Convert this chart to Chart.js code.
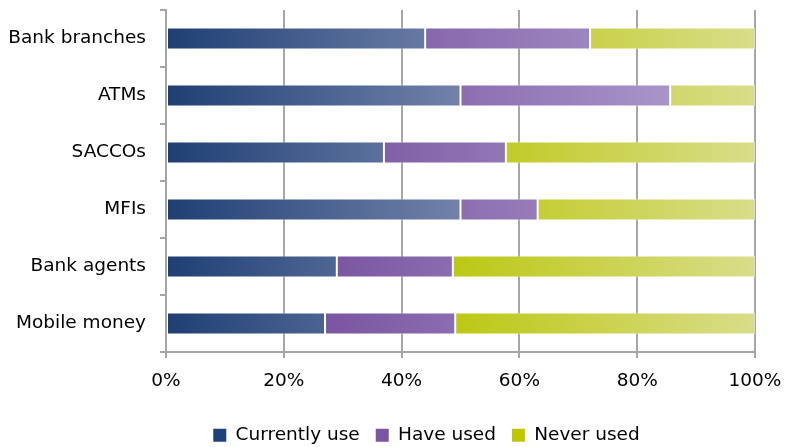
<!DOCTYPE html>
<html>
<head>
<meta charset="utf-8">
<script src="https://cdn.jsdelivr.net/npm/chart.js@4/dist/chart.umd.min.js"></script>
<style>
  html, body { margin: 0; padding: 0; background: #ffffff; }
  #wrap { width: 785px; height: 447px; position: relative; }
</style>
</head>
<body>
<div id="wrap"><canvas id="c"></canvas></div>
<script>
// ---- data ----
const categories = ["Bank branches", "ATMs", "SACCOs", "MFIs", "Bank agents", "Mobile money"];
const seriesNames = ["Currently use", "Have used", "Never used"];
const currentlyUse = [44, 50, 37, 50, 29, 27];
const haveUsed     = [28, 35.6, 20.7, 13.1, 19.7, 22.1];
const neverUsed    = [28, 14.4, 42.3, 36.9, 51.3, 50.9];
const xTicks = [0, 20, 40, 60, 80, 100];

// ---- styles ----
const solidColors = ["#1F4078", "#7B55A1", "#BDC800"];
const gradRanges = [[0, 50], [29, 86], [49, 100]];
const gradColors = [["#1E3F74", "#7282AA"], ["#7B57A1", "#A995CA"], ["#BCC815", "#D9DD8A"]];
const FONT = "'DejaVu Sans', sans-serif";
const FS = 18.5;

function gradientFor(i) {
  return function (ctx) {
    const chart = ctx.chart;
    if (!chart.chartArea) return solidColors[i];
    const xs = chart.scales.x;
    const g = chart.ctx.createLinearGradient(
      xs.getPixelForValue(gradRanges[i][0]), 0,
      xs.getPixelForValue(gradRanges[i][1]), 0);
    g.addColorStop(0, gradColors[i][0]);
    g.addColorStop(1, gradColors[i][1]);
    return g;
  };
}

const values = [currentlyUse, haveUsed, neverUsed];
const datasets = seriesNames.map((name, i) => ({
  label: name,
  data: values[i],
  backgroundColor: gradientFor(i),
  borderColor: "rgba(255,255,255,0.55)",
  borderWidth: 1,
  borderSkipped: false,
  categoryPercentage: 1.0,
  barPercentage: 0.39
}));

// shift the legend row so it sits where the original places it
const legendShift = {
  id: "legendShift",
  afterLayout(chart) {
    if (chart.legend) { chart.legend.left += 49; chart.legend.right += 49; }
  }
};

new Chart(document.getElementById("c"), {
  type: "bar",
  data: { labels: categories, datasets: datasets },
  plugins: [legendShift],
  options: {
    indexAxis: "y",
    responsive: true,
    maintainAspectRatio: false,
    animation: false,
    layout: { padding: { top: 10, right: 30, left: 0, bottom: 0 } },
    plugins: {
      tooltip: { enabled: false },
      legend: {
        position: "bottom",
        maxHeight: 37,
        labels: {
          font: { family: FONT, size: FS },
          color: "#000",
          boxWidth: 13,
          boxHeight: 13,
          padding: 16,
          generateLabels: function (chart) {
            return chart.data.datasets.map((ds, i) => ({
              text: ds.label,
              fillStyle: solidColors[i],
              strokeStyle: solidColors[i],
              lineWidth: 0,
              hidden: false,
              datasetIndex: i
            }));
          }
        }
      }
    },
    scales: {
      x: {
        stacked: true,
        min: 0,
        max: 100,
        afterBuildTicks: (s) => { s.ticks = xTicks.map(v => ({ value: v })); },
        ticks: {
          callback: (v) => v + "%",
          font: { family: FONT, size: FS },
          color: "#000",
          padding: 12
        },
        grid: { color: "#A6A6A6", lineWidth: 2, tickLength: 6 },
        border: { color: "#A6A6A6", width: 2 },
        afterFit: (s) => { s.height = 58; s.paddingLeft = 0; s.paddingRight = 0; }
      },
      y: {
        stacked: true,
        ticks: {
          font: { family: FONT, size: FS },
          color: "#000",
          padding: 14
        },
        grid: { drawOnChartArea: false, offset: true, color: "#A6A6A6", lineWidth: 2, tickLength: 6 },
        border: { color: "#A6A6A6", width: 2 },
        afterFit: (s) => { s.width = 166; s.paddingTop = 0; s.paddingBottom = 0; }
      }
    }
  }
});
</script>
</body>
</html>
